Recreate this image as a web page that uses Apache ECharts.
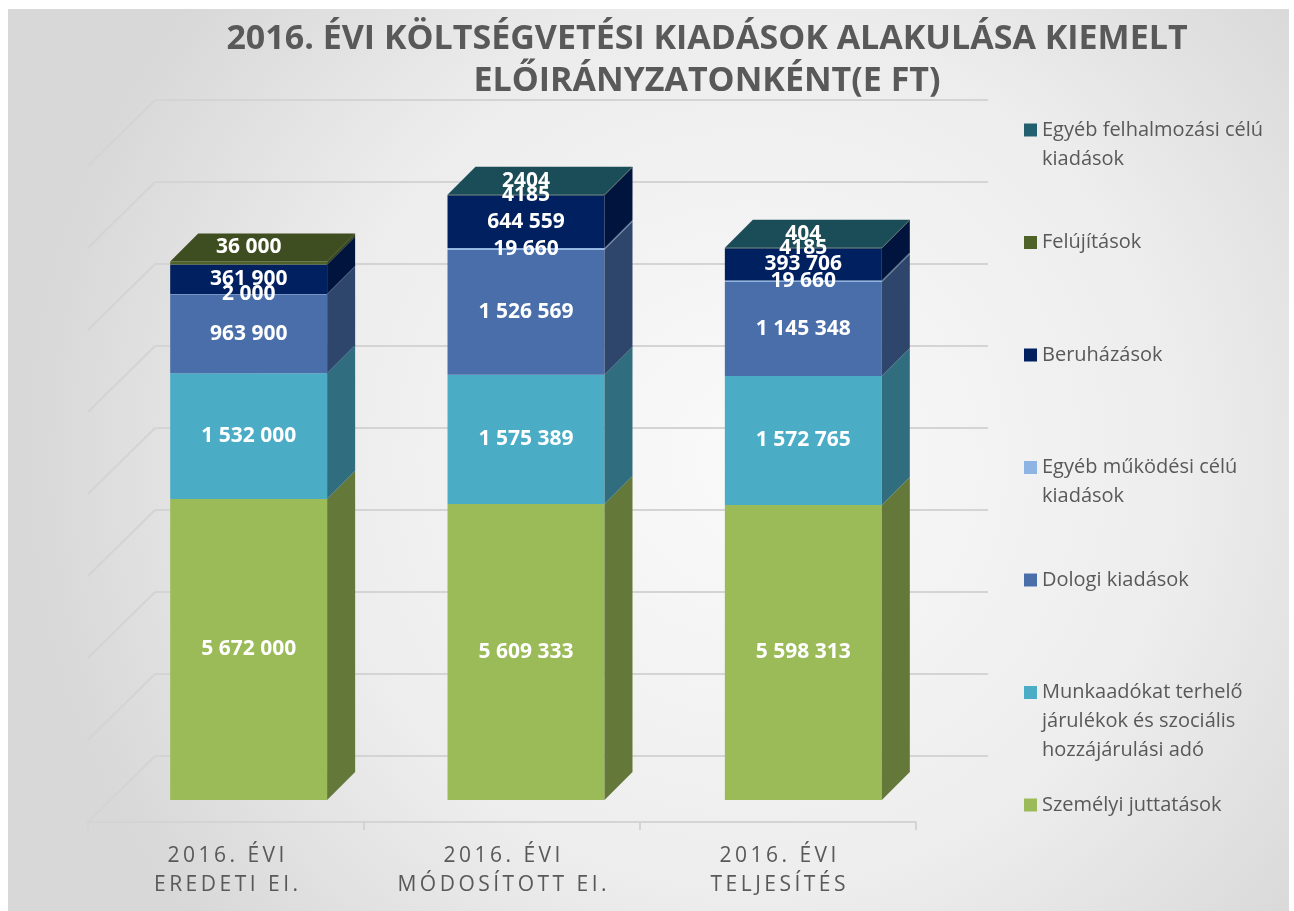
<!DOCTYPE html>
<html>
<head>
<meta charset="utf-8">
<script src="https://cdn.jsdelivr.net/npm/echarts@6/dist/echarts.min.js"></script>
<style>
  html, body { margin: 0; padding: 0; background: #fff; }
  #main { width: 1294px; height: 911px; }
</style>
</head>
<body>
<div id="main"></div>
<script>
/* ---------- data ---------- */
const categories = ['2016. ÉVI\nEREDETI EI.', '2016. ÉVI\nMÓDOSÍTOTT EI.', '2016. ÉVI\nTELJESÍTÉS'];

const seriesNames = [
  'Személyi juttatások',
  'Munkaadókat terhelő\njárulékok és szociális\nhozzájárulási adó',
  'Dologi kiadások',
  'Egyéb működési célú\nkiadások',
  'Beruházások',
  'Felújítások',
  'Egyéb felhalmozási célú\nkiadások'
];

const szemelyi      = [5672000, 5609333, 5598313];
const munkaado      = [1532000, 1575389, 1572765];
const dologi        = [963900, 1526569, 1145348];
const egyebMukodesi = [2000, 19660, 19660];
const beruhazas     = [361900, 644559, 393706];
const felujitas     = [36000, 4185, 4185];
const egyebFelhalm  = [0, 2404, 404];

const yMin = 2000000, yMax = 10000000, yStep = 1000000;
const wallTicks = [2000000, 3000000, 4000000, 5000000, 6000000, 7000000, 8000000, 9000000, 10000000];

/* ---------- styling ---------- */
const seriesValues = [szemelyi, munkaado, dologi, egyebMukodesi, beruhazas, felujitas, egyebFelhalm];
const frontColors = ['#9BBB59', '#4BACC6', '#4A6EA9', '#8EB4E3', '#002060', '#4F6228', '#22606F'];
const DEPTH = 28;
const BAR_RATIO = 0.566;
const labelFont = 'bold 21px "Open Sans"';

function shade(hex, k) {
  const n = parseInt(hex.slice(1), 16);
  const r = Math.round(((n >> 16) & 255) * k);
  const g = Math.round(((n >> 8) & 255) * k);
  const b = Math.round((n & 255) * k);
  return 'rgb(' + r + ',' + g + ',' + b + ')';
}

function fmt(v) {
  if (v < 10000 && v % 1000 !== 0) return String(v);
  return String(v).replace(/\B(?=(\d{3})+(?!\d))/g, ' ');
}

// stacked data: [catIndex, base, end, value, isTop]
const stacked = seriesValues.map((vals, s) => vals.map((v, i) => {
  let base = 0;
  for (let k = 0; k < s; k++) base += seriesValues[k][i];
  let isTop = 1;
  for (let k = s + 1; k < seriesValues.length; k++) if (seriesValues[k][i] > 0) isTop = 0;
  return [i, base, base + v, v, isTop];
}));

function prism(color) {
  const side = shade(color, 0.64);
  const top = shade(color, 0.8);
  return function (params, api) {
    const v = api.value(3);
    if (!v) return;
    const i = api.value(0);
    const p0 = api.coord([i, Math.max(api.value(1), yMin)]);
    const p1 = api.coord([i, api.value(2)]);
    const w = api.size([1, 0])[0] * BAR_RATIO;
    const x = p0[0] - w / 2;
    const y0 = p0[1], y1 = p1[1];
    const children = [
      { type: 'rect', shape: { x: x, y: y1, width: w, height: y0 - y1 }, style: { fill: color } },
      { type: 'polygon', shape: { points: [[x + w, y1], [x + w + DEPTH, y1 - DEPTH], [x + w + DEPTH, y0 - DEPTH], [x + w, y0]] }, style: { fill: side } }
    ];
    let ly = (y0 + y1) / 2;
    if (api.value(4)) {
      children.push({ type: 'polygon', shape: { points: [[x, y1], [x + DEPTH, y1 - DEPTH], [x + w + DEPTH, y1 - DEPTH], [x + w, y1]] }, style: { fill: top } });
      ly = y1 - DEPTH / 2;
    }
    children.push({
      type: 'text', z2: 100,
      style: { x: p0[0], y: ly, text: fmt(v), fill: '#fff', font: labelFont, align: 'center', verticalAlign: 'middle' }
    });
    return { type: 'group', children: children };
  };
}

const chart = echarts.init(document.getElementById('main'));

// one legend per item so that the first text line of every entry sits on a fixed pitch
const legendLine = 29;
const legends = seriesNames.slice().reverse().map((name, k) => {
  const n = name.split('\n').length;
  const iconY = 130 + k * 112.5;
  return {
    data: [{ name: name, icon: 'rect' }],
    formatter: nm => '\n'.repeat(n - 1) + nm,
    left: 1024,
    top: iconY - (2 * n - 1) * legendLine / 2,
    padding: 0,
    itemWidth: 13, itemHeight: 13, itemGap: 0,
    selectedMode: false,
    textStyle: { color: '#595959', fontSize: 20, fontFamily: 'Open Sans', lineHeight: legendLine }
  };
});

const series = stacked.map((data, s) => ({
  type: 'custom',
  name: seriesNames[s],
  xAxisIndex: 1, yAxisIndex: 1,
  itemStyle: { color: frontColors[s] },
  renderItem: prism(frontColors[s]),
  data: data
}));

// left side wall diagonals
series.push({
  type: 'custom',
  xAxisIndex: 2, yAxisIndex: 2,
  silent: true,
  z: 0,
  data: wallTicks.map(t => [0, t]),
  renderItem: function (params, api) {
    const p = api.coord([0, api.value(1)]);
    const x0 = params.coordSys.x;
    return { type: 'line', shape: { x1: x0, y1: p[1], x2: x0 - 67, y2: p[1] + 66 }, style: { stroke: '#d4d4d4', lineWidth: 2 } };
  }
});

chart.setOption({
  backgroundColor: '#fff',
  animation: false,
  graphic: [{
    type: 'rect', left: 8, top: 9, z: -100, silent: true,
    shape: { width: 1281, height: 902 },
    style: { fill: new echarts.graphic.RadialGradient(0.58, 0.5, 0.8, [
      { offset: 0, color: '#fafafa' },
      { offset: 0.6, color: '#ededed' },
      { offset: 1, color: '#d8d8d8' }
    ]) }
  }],
  title: {
    text: '2016. ÉVI KÖLTSÉGVETÉSI KIADÁSOK ALAKULÁSA KIEMELT\nELŐIRÁNYZATONKÉNT(E FT)',
    left: 702, top: 13, textAlign: 'center',
    textStyle: { color: '#595959', fontSize: 34, fontWeight: 'bold', fontFamily: 'Open Sans', lineHeight: 42 }
  },
  legend: legends,
  grid: [
    { left: 88, width: 828, top: 144, bottom: 89 },
    { left: 110, width: 832, top: 144, bottom: 111 },
    { left: 155, width: 833, top: 100, bottom: 155 }
  ],
  xAxis: [
    {
      gridIndex: 0, type: 'category', data: categories,
      axisLine: { lineStyle: { color: '#d4d4d4', width: 2 } },
      axisTick: { show: true, length: 8, lineStyle: { color: '#d4d4d4', width: 2 } },
      axisLabel: {
        color: '#595959', fontSize: 21, fontFamily: 'Open Sans', lineHeight: 29, margin: 20,
        formatter: v => v.split('\n').map(l => Array.from(l).join('\u2009')).join('\n')
      }
    },
    { gridIndex: 1, type: 'category', data: categories, show: false },
    { gridIndex: 2, type: 'category', data: categories, show: false }
  ],
  yAxis: [
    { gridIndex: 0, type: 'value', min: yMin, max: yMax, interval: yStep, show: false },
    { gridIndex: 1, type: 'value', min: yMin, max: yMax, interval: yStep, show: false },
    {
      gridIndex: 2, type: 'value', min: yMin, max: yMax, interval: yStep,
      axisLine: { show: false }, axisTick: { show: false }, axisLabel: { show: false },
      splitLine: { show: true, lineStyle: { color: '#d4d4d4', width: 2 } }
    }
  ],
  series: series
});
</script>
</body>
</html>
